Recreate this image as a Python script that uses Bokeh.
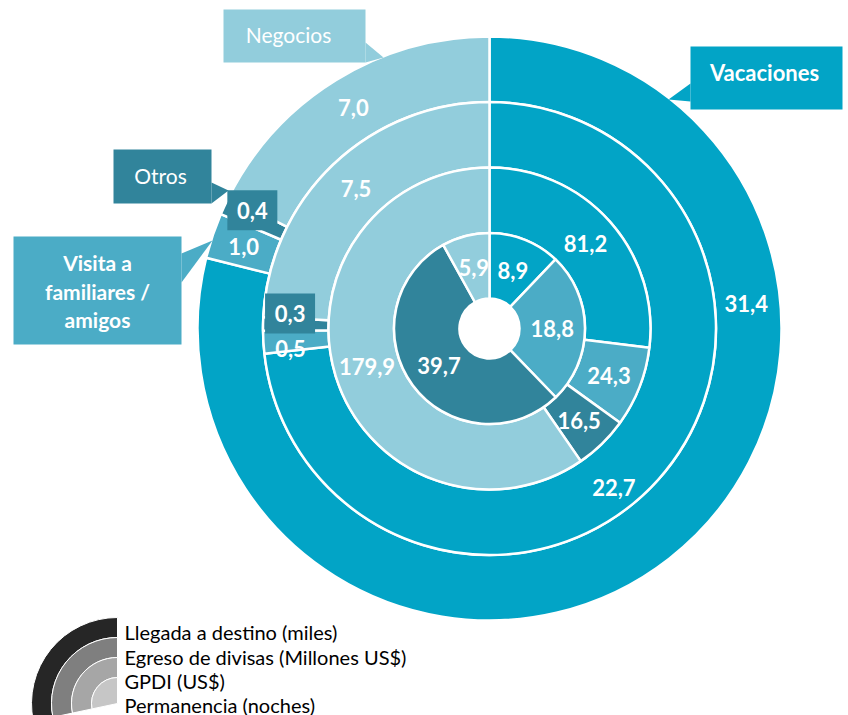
import numpy as np
from bokeh.plotting import figure
from bokeh.models import Range1d, ColumnDataSource
from bokeh.embed import file_html
from bokeh.resources import INLINE
from bokeh.core.properties import value

# ---------------- data ----------------
categories = ["Vacaciones", "Visita a familiares / amigos", "Otros", "Negocios"]
series_names = ["Llegada a destino (miles)", "Egreso de divisas (Millones US$)",
                "GPDI (US$)", "Permanencia (noches)"]
llegada = [31.4, 1.0, 0.4, 7.0]
egreso = [22.7, 0.5, 0.3, 7.5]
gpdi = [81.2, 24.3, 16.5, 179.9]
permanencia = [8.9, 18.8, 39.7, 5.9]
series = [llegada, egreso, gpdi, permanencia]

cat_colors = ["#02A4C6", "#4BACC6", "#31849B", "#92CDDC"]
legend_colors = ["#262626", "#7f7f7f", "#a6a6a6", "#c6c6c6"]

FONT = "Lato"
W, H = 848, 715


def Y(sy):
    # screen y (px from top) -> data y
    return H - sy


p = figure(width=W, height=H, x_range=Range1d(0, W), y_range=Range1d(0, H),
           output_backend="svg", toolbar_location=None, min_border=0,
           x_axis_location=None, y_axis_location=None)
p.grid.visible = False
p.outline_line_color = None
p.background_fill_color = "white"
p.border_fill_color = "white"

CX, CY = 489, Y(328)
edges = [292, 226.5, 161, 95.5, 30]

# ---------------- rings ----------------
wx, wy, wir, wor, wsa, wea, wc = [], [], [], [], [], [], []
lab_x, lab_y, lab_t = [], [], []
box_x, box_y = [], []
overrides = {(0, 0): (84.5, 258), (1, 0): (142, 202), (0, 2): (296.5, 265),
             (1, 2): (274.3, 200), (1, 1): (264.3, 200)}
boxed = {(0, 2), (1, 2)}
for i, vals in enumerate(series):
    tot = float(sum(vals))
    cum = np.concatenate([[0.0], np.cumsum(vals)]) / tot * 360.0
    r_out, r_in = edges[i], edges[i + 1]
    for j, v in enumerate(vals):
        t1, t2 = cum[j], cum[j + 1]
        wx.append(CX); wy.append(CY)
        wir.append(r_in); wor.append(r_out)
        wsa.append(np.radians(90 - t2)); wea.append(np.radians(90 - t1))
        wc.append(cat_colors[j])
        ang, rr = overrides.get((i, j), ((t1 + t2) / 2, (r_in + r_out) / 2))
        lx = CX + rr * np.sin(np.radians(ang))
        ly = CY + rr * np.cos(np.radians(ang))
        lab_x.append(lx); lab_y.append(ly)
        lab_t.append(f"{v:.1f}".replace(".", ","))
        if (i, j) in boxed:
            box_x.append(lx); box_y.append(ly)

wsrc = ColumnDataSource(dict(x=wx, y=wy, ir=wir, orr=wor, sa=wsa, ea=wea, c=wc))
p.annular_wedge(x="x", y="y", inner_radius="ir", outer_radius="orr",
                start_angle="sa", end_angle="ea", fill_color="c",
                line_color="white", line_width=2.5, source=wsrc)

p.rect(x=box_x, y=box_y, width=50, height=40, fill_color=cat_colors[2], line_color=None)
p.text(x=lab_x, y=lab_y, text=lab_t, text_color="white", text_font=value(FONT),
       text_font_style="bold", text_font_size="22px", text_align="center",
       text_baseline="middle")

# ---------------- callouts ----------------
def callout(l, r, t, b, tri, color, lines, bold, cx, cys, fs):
    p.quad(left=l, right=r, top=Y(t), bottom=Y(b), fill_color=color, line_color=None)
    p.patch([q[0] for q in tri], [Y(q[1]) for q in tri], fill_color=color, line_color=None)
    p.text(x=[cx] * len(lines), y=[Y(c) for c in cys], text=lines, text_color="white",
           text_font=value(FONT), text_font_style="bold" if bold else "normal",
           text_font_size=fs, text_align="center", text_baseline="middle")

callout(223, 365, 9, 62, [(365, 42), (383, 57), (365, 62)], cat_colors[3],
        ["Negocios"], False, 288, [34], "21px")
callout(690, 842, 46, 109, [(690, 83), (668, 99), (690, 101)], cat_colors[0],
        ["Vacaciones"], True, 764, [72], "22px")
callout(113, 211, 149, 203, [(211, 182), (228, 190), (211, 203)], cat_colors[2],
        ["Otros"], False, 160, [175], "21px")
callout(13, 181, 236, 344, [(181, 253), (212, 240), (181, 282)], cat_colors[1],
        ["Visita a", "familiares /", "amigos"], True, 97, [262, 291, 319], "21px")

# ---------------- legend ----------------
leg_r = [(66, 86), (46, 66), (26, 46), (0, 26)]
for (ri, ro), c in zip(leg_r, legend_colors):
    p.annular_wedge(x=117, y=Y(703), inner_radius=ri, outer_radius=ro,
                    start_angle=np.radians(90), end_angle=np.radians(192),
                    fill_color=c, line_color="white", line_width=1)
p.text(x=[124] * 4, y=[Y(s) for s in [631, 656, 680, 704]], text=series_names,
       text_color="black", text_font=value(FONT), text_font_size="20px",
       text_align="left", text_baseline="middle")

open("out.html", "w").write(file_html(p, INLINE))
